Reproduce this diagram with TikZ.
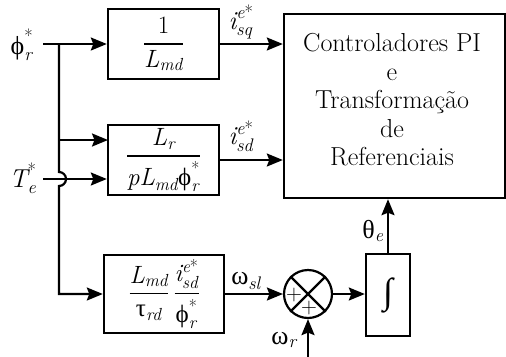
\documentclass[tikz,border=0pt]{standalone}
\usepackage{amsmath}
\usepackage{fontspec}
\newfontfamily\grk{Liberation Serif}
\usetikzlibrary{arrows.meta,calc}

% italic variable letters and upright Greek, set as text inside formulas
\newcommand{\vi}[1]{\text{\rmfamily\itshape #1}}
\newcommand{\gk}[1]{\text{\grk\upshape #1}}
\newcommand{\st}{\text{\rmfamily\upshape *}}
\newcommand{\fr}[2]{\genfrac{}{}{1.5bp}{0}{#1}{#2}}

\tikzset{
  wire/.style={line width=2.2bp},
  arr/.style={wire, -{Stealth[length=16bp,width=13bp,inset=2.5bp]}},
  blk/.style={draw, line width=2.4bp, inner sep=0pt, font=\rmfamily\fontsize{25bp}{30bp}\selectfont},
  lbl/.style={inner sep=0pt, font=\rmfamily\fontsize{26bp}{30bp}\selectfont},
  plus/.style={inner sep=0pt, font=\rmfamily\fontsize{22bp}{22bp}\selectfont},
}

\begin{document}
\begin{tikzpicture}[x=1bp, y=-1bp]
\useasboundingbox (0,0) rectangle (506,356);

% blocks
\node[blk, minimum width=111bp, minimum height=70bp] (box1) at (163.5,44)
  {$\fr{\text{\rmfamily 1}}{\vi{L}_{\vi{md}}}$};
\node[blk, minimum width=111bp, minimum height=70bp] (box2) at (163.5,160)
  {$\fr{\vi{L}_{\vi{r}}}{\vi{pL}_{\vi{md}}\gk{ϕ}_{\vi{r}}^{\st}}$};
\node[blk, minimum width=120bp, minimum height=78bp] (box3) at (164,294)
  {$\fr{\vi{L}_{\vi{md}}}{\gk{τ}_{\vi{rd}}}\,\fr{\vi{i}_{\vi{sd}}^{\vi{e}\st}}{\gk{ϕ}_{\vi{r}}^{\st}}$};
\node[blk, minimum width=221bp, minimum height=184bp] (big) at (394.5,106) {};
\node[inner sep=0pt, align=center, font=\rmfamily\fontsize{26bp}{28.5bp}\selectfont] (bigtxt) at (392,100)
  {Controladores PI\\e\\Transformação\\de\\Referenciais};
\node[blk, minimum width=44bp, minimum height=82bp] (integ) at (388,295)
  {\grk\fontsize{36bp}{36bp}\selectfont ∫};
\node[draw, circle, line width=2.2bp, minimum size=48bp, inner sep=0pt] (circ) at (308,294) {};
\draw[wire] (circ.north west) -- (circ.south east);
\draw[wire] (circ.north east) -- (circ.south west);
\node[plus] (pl1) at ($(circ.center)+(-14,1)$) {+};
\node[plus] (pl2) at ($(circ.center)+(1,14)$) {+};

% inputs
\coordinate (phin) at (43,44);
\coordinate (tin) at (43,179);
\coordinate (split) at (59,44);
\coordinate (b2a) at (108,140);
\coordinate (wrin) at (308,360);

\draw[arr] (phin) -- (box1.west);
\draw[arr] (tin) -- (tin -| box2.west);
\draw[arr] (split |- b2a) -- (b2a);
\draw[arr] (split) -- ($(split |- tin)+(0,-7)$) arc[start angle=-90, end angle=90, radius=7]
  -- (split |- box3.west) -- (box3.west);

% outputs
\draw[arr] (box1.east) -- (box1.east -| big.west);
\draw[arr] (box2.east) -- (box2.east -| big.west);
\draw[arr] (box3.east) -- (circ.west);
\draw[arr] (circ.east) -- (circ.east -| integ.west);
\draw[arr] (integ.north) -- (integ.north |- big.south);
\draw[arr] (wrin) -- (circ.south);

% labels
\node[lbl] (lphi) at (22,45) {$\gk{ϕ}_{\vi{r}}^{\st}$};
\node[lbl] (lte) at (23,178) {$\vi{T}_{\vi{e}}^{\st}$};
\node[lbl] (lisq) at (241,22) {$\vi{i}_{\vi{sq}}^{\vi{e}\st}$};
\node[lbl] (lisd) at (241,136) {$\vi{i}_{\vi{sd}}^{\vi{e}\st}$};
\node[lbl] (lwsl) at (246,281) {$\gk{ω}_{\vi{sl}}$};
\node[lbl] (lthe) at (373,231) {$\gk{θ}_{\vi{e}}$};
\node[lbl] (lwr) at (284,340) {$\gk{ω}_{\vi{r}}$};
\end{tikzpicture}
\end{document}
